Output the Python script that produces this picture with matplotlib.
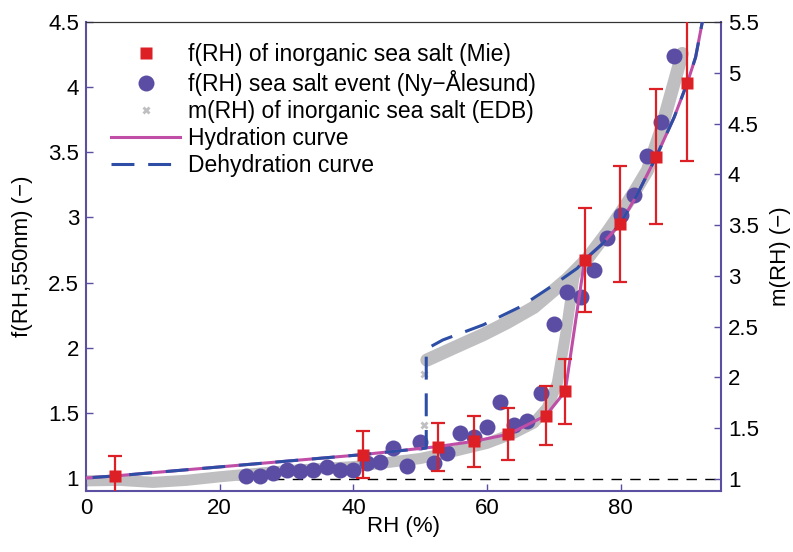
import numpy as np
import matplotlib.pyplot as plt
from matplotlib.lines import Line2D

plt.rcParams['font.family'] = ['Liberation Sans', 'DejaVu Sans']

# f(RH) of inorganic sea salt (Mie), with error bars
mie_rh = [4.4, 41.5, 52.6, 58.1, 63.2, 68.8, 71.7, 74.6, 79.9, 85.3, 89.9]
mie_f = [1.016, 1.18, 1.241, 1.282, 1.336, 1.479, 1.666, 2.675, 2.95, 3.466, 4.034]
mie_err = [0.15, 0.18, 0.184, 0.195, 0.2, 0.224, 0.25, 0.40, 0.445, 0.52, 0.6]

# f(RH) sea salt event, Ny-Alesund
event_rh = [24, 26, 28, 30, 32, 34, 36, 38, 40, 42, 44, 46, 48, 50, 52, 54, 56,
            58, 60, 62, 64, 66, 68, 70, 72, 74, 76, 78, 80, 82, 84, 86, 88]
event_f = [1.016, 1.016, 1.037, 1.062, 1.057, 1.062, 1.087, 1.062, 1.062, 1.113,
           1.125, 1.228, 1.09, 1.279, 1.113, 1.19, 1.348, 1.313, 1.394, 1.586,
           1.407, 1.44, 1.65, 2.183, 2.43, 2.39, 2.60, 2.84, 3.02, 3.17, 3.47,
           3.735, 4.24]

# m(RH) of inorganic sea salt (EDB), right axis
edb_hyd_rh = [0, 5, 10, 15, 20, 25, 30, 35, 40, 45, 50, 55, 60, 64, 67, 69,
              70.5, 71.8, 72.5, 73, 73.6]
edb_hyd_m = [0.98, 0.985, 0.965, 0.985, 1.02, 1.05, 1.08, 1.10, 1.12, 1.16, 1.20,
             1.27, 1.35, 1.45, 1.55, 1.70, 1.94, 2.44, 2.76, 2.99, 3.08]
edb_dehyd_rh = [51, 55, 59.4, 63, 67, 72, 75, 78, 80, 82, 84, 86, 88.4, 89.2]
edb_dehyd_m = [2.17, 2.29, 2.42, 2.54, 2.69, 2.97, 3.17, 3.43, 3.62, 3.82, 4.04,
               4.43, 5.0, 5.19]
edb_eff_rh = [50.6, 50.6]
edb_eff_m = [2.03, 1.53]

# model curves
hyd_rh = [0, 4.4, 41.5, 52.6, 58.1, 63.2, 68.8, 71.7, 74.6, 77.3, 79.9, 82.4,
          85.3, 88, 90, 91.2, 92.2, 92.7]
hyd_f = [1.0, 1.016, 1.18, 1.241, 1.282, 1.336, 1.479, 1.666, 2.675, 2.80, 2.95,
         3.17, 3.466, 3.77, 4.04, 4.23, 4.5, 4.62]
dehyd_rh = [92.7, 92.2, 91.2, 90, 88, 85.3, 82.4, 79.9, 77.3, 74.6, 73.5, 69.9,
            65, 59.4, 53.4, 50.9, 50.9, 41.5, 4.4, 0]
dehyd_f = [4.62, 4.5, 4.23, 4.04, 3.77, 3.466, 3.17, 2.95, 2.80, 2.675, 2.61,
           2.48, 2.315, 2.175, 2.06, 1.99, 1.23, 1.18, 1.016, 1.0]

purple = '#5a4fa0'
red = '#dd1f26'
dot = '#5b4da3'
gray = '#bfbfc1'
magenta = '#c04ea6'
blue = '#2e4ea6'
dash = (0, (7.5, 4.5))

fig = plt.figure(figsize=(7.93, 5.52), dpi=100)
ax = fig.add_axes([0.1085, 0.1105, 0.8007, 0.8495])
ax2 = ax.twinx()
ax.set_zorder(2)
ax2.set_zorder(1)
ax.patch.set_visible(False)

# right axis: EDB band and reference line
ax2.axhline(1, color='k', lw=1, ls=(0, (7.5, 6)), zorder=1)
ax2.plot(edb_hyd_rh, edb_hyd_m, color=gray, lw=8, solid_capstyle='round',
         solid_joinstyle='round', zorder=2)
ax2.plot(edb_dehyd_rh, edb_dehyd_m, color=gray, lw=9.5, solid_capstyle='round',
         solid_joinstyle='round', zorder=2)
ax2.plot(edb_eff_rh, edb_eff_m, ls='none', marker='X', ms=6, color=gray,
         mec='none', zorder=3)

# left axis
ax.plot(event_rh, event_f, 'o', color=dot, ms=11.5, mec='none', zorder=2)
ax.plot(hyd_rh, hyd_f, color=magenta, lw=2.2, zorder=3)
ax.plot(dehyd_rh, dehyd_f, color=blue, lw=2.2, ls=dash, zorder=4)
ax.errorbar(mie_rh, mie_f, yerr=mie_err, fmt='none', ecolor=red, elinewidth=1.6,
            capsize=5, capthick=1.6, zorder=5)
ax.plot(mie_rh, mie_f, 's', color=red, ms=8.5, mec='none', zorder=6)

ax.set_xlim(0, 95)
ax.set_ylim(0.9, 4.5)
ax2.set_ylim(0.88, 5.5)
ax.set_xticks([0, 20, 40, 60, 80])
ax.set_yticks([1, 1.5, 2, 2.5, 3, 3.5, 4, 4.5])
ax.set_yticklabels(['1', '1.5', '2', '2.5', '3', '3.5', '4', '4.5'])
ax2.set_yticks([1, 1.5, 2, 2.5, 3, 3.5, 4, 4.5, 5, 5.5])
ax2.set_yticklabels(['1', '1.5', '2', '2.5', '3', '3.5', '4', '4.5', '5', '5.5'])

for a in (ax, ax2):
    a.tick_params(direction='in', length=5, width=1, color=purple,
                  labelsize=16, pad=5)
    a.spines['top'].set_color('#333333')
    a.spines['top'].set_linewidth(0.8)
    for s in ('left', 'right', 'bottom'):
        a.spines[s].set_color(purple)
        a.spines[s].set_linewidth(1.5)
ax.spines['right'].set_visible(False)
ax2.spines['left'].set_visible(False)
ax2.spines['bottom'].set_visible(False)

ax.set_xlabel('RH (%)', fontsize=16, labelpad=-2)
ax.set_ylabel('f(RH,550nm) (\u2212)', fontsize=16, labelpad=11)
ax2.set_ylabel('m(RH) (\u2212)', fontsize=16, labelpad=8)

handles = [
    Line2D([], [], ls='none', marker='s', color=red, ms=8.5, mec='none'),
    Line2D([], [], ls='none', marker='o', color=dot, ms=11.5, mec='none'),
    Line2D([], [], ls='none', marker='X', color=gray, ms=6, mec='none'),
    Line2D([], [], color=magenta, lw=2.2),
    Line2D([], [], color=blue, lw=2.2, ls=dash),
]
labels = ['f(RH) of inorganic sea salt (Mie)',
          'f(RH) sea salt event (Ny\u2212\u00c5lesund)',
          'm(RH) of inorganic sea salt (EDB)',
          'Hydration curve',
          'Dehydration curve']
ax.legend(handles, labels, loc='upper left', bbox_to_anchor=(0.04, 0.956),
          frameon=False, fontsize=16.5, handlelength=3.0, handletextpad=0.35,
          labelspacing=0.18, borderpad=0, borderaxespad=0)

fig.savefig('out.png', dpi=100)
